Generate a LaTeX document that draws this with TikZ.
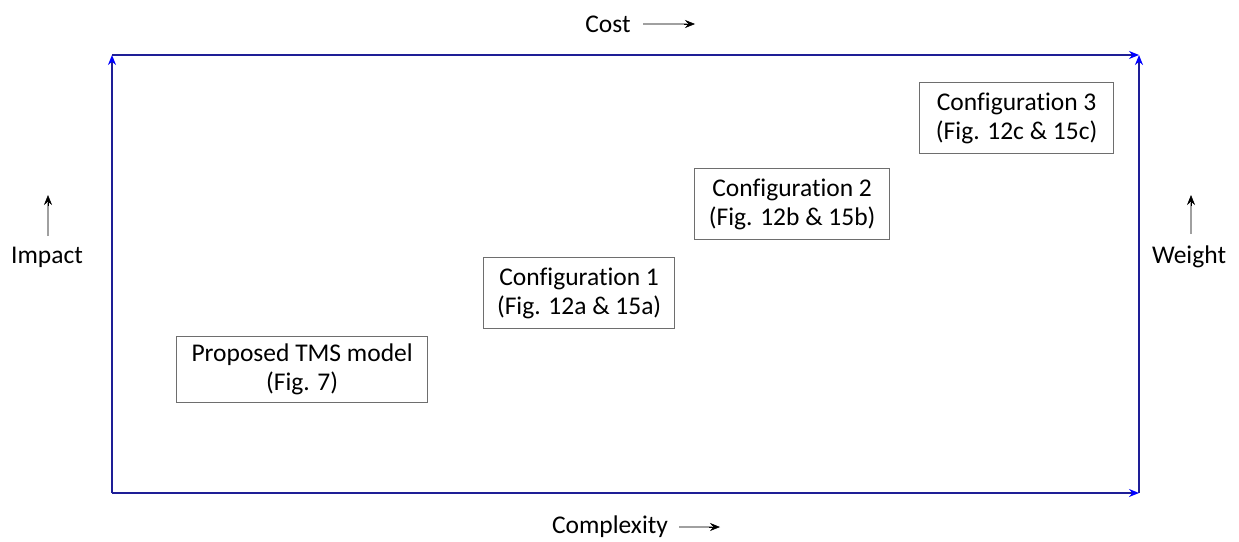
\documentclass[tikz,border=0pt]{standalone}
\usepackage{fontspec}
\setmainfont[Ligatures=NoCommon]{Carlito}
\usetikzlibrary{arrows.meta,calc}
\definecolor{frameblue}{RGB}{30,30,150}
\definecolor{boxgray}{RGB}{110,110,110}
\definecolor{arrowgray}{RGB}{160,160,160}
\begin{document}
\begin{tikzpicture}[x=1pt,y=-1pt,
  frame/.style={draw=frameblue,line width=2.4pt,-{Stealth[length=10pt,width=8pt,color=blue]}},
  cfgbox/.style={draw=boxgray,line width=1.3pt,align=center,inner sep=0pt,anchor=north west,font=\fontsize{25.5}{29}\selectfont},
  lbl/.style={font=\fontsize{25.5}{29}\selectfont,inner sep=0pt},
  smallline/.style={draw=arrowgray,line width=1.8pt,shorten >=8pt},
  smalltip/.style={draw=black,fill=black,line width=0.6pt,-{Stealth[length=10pt,width=8pt]}}]
\useasboundingbox (0,0) rectangle (1239,541);
\coordinate (bl) at (112,493);
\coordinate (tl) at (112,55);
\coordinate (tr) at (1139,55);
\coordinate (br) at (1139,493);
\draw[frame] (bl) -- (tl);
\draw[frame] (tl) -- (tr);
\draw[frame] (br) -- (tr);
\draw[frame] (bl) -- (br);

\node[cfgbox,minimum width=251pt,minimum height=66pt] (p) at (176,336) {Proposed TMS model\\(Fig. 7)};
\node[cfgbox,minimum width=191pt,minimum height=71pt] (c1) at (483,257) {Configuration 1\\(Fig. 12a \& 15a)};
\node[cfgbox,minimum width=195pt,minimum height=71pt] (c2) at (694,168) {Configuration 2\\(Fig. 12b \& 15b)};
\node[cfgbox,minimum width=194pt,minimum height=71pt] (c3) at (919,82) {Configuration 3\\(Fig. 12c \& 15c)};

\node[lbl] (cost) at (608,24) {Cost};
\coordinate (costA) at (643,24);
\coordinate (costB) at (695,24);
\coordinate (costT) at (684,24);
\draw[smallline] (costA) -- (costB);
\draw[smalltip] (costT) -- (costB);

\node[lbl] (cx) at (610,527) {Complexity};
\coordinate (cxA) at (679,527);
\coordinate (cxB) at (720,527);
\coordinate (cxT) at (709,527);
\draw[smallline] (cxA) -- (cxB);
\draw[smalltip] (cxT) -- (cxB);

\node[lbl] (imp) at (47,257) {Impact};
\coordinate (impA) at (48,236);
\coordinate (impB) at (48,195);
\coordinate (impT) at (48,206);
\draw[smallline] (impA) -- (impB);
\draw[smalltip] (impT) -- (impB);

\node[lbl] (wt) at (1189,257) {Weight};
\coordinate (wtA) at (1191,234);
\coordinate (wtB) at (1191,195);
\coordinate (wtT) at (1191,206);
\draw[smallline] (wtA) -- (wtB);
\draw[smalltip] (wtT) -- (wtB);
\end{tikzpicture}
\end{document}
